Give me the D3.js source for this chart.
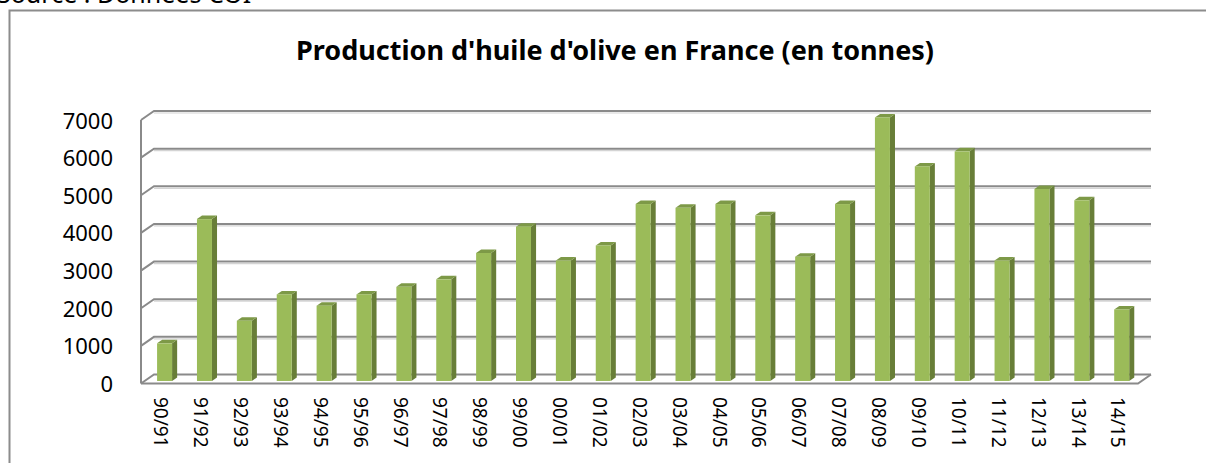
<!DOCTYPE html>
<html>
<head>
<meta charset="utf-8">
<script src="https://cdnjs.cloudflare.com/ajax/libs/d3/7.8.5/d3.min.js"></script>
<style>
    body{margin:0;background:#fff;overflow:hidden;}
    svg{display:block;}
</style>
</head>
<body>
<div id="graphWrapper"></div>
<script>
//data
const CAMPAIGNS = ['90/91','91/92','92/93','93/94','94/95','95/96','96/97','97/98','98/99','99/00',
                   '00/01','01/02','02/03','03/04','04/05','05/06','06/07','07/08','08/09','09/10',
                   '10/11','11/12','12/13','13/14','14/15'];
const TONNES = [1000,4300,1600,2300,2000,2300,2500,2700,3400,4100,
                3200,3600,4700,4600,4700,4400,3300,4700,7000,5700,
                6100,3200,5100,4800,1900];
const Y_TICKS = [0,1000,2000,3000,4000,5000,6000,7000];
const TITLE = "Production d'huile d'olive en France (en tonnes)";
const SOURCE = 'Source : Données COI';

//layout constants
const CONSTANTS = {
    WIDTH:1206,
    HEIGHT:463,
    FRONT_LEFT:141,   //x of the front edge of the left wall
    FRONT_RIGHT:1138, //x of the front edge of the floor, right end
    BACK_ZERO:374.5,  //y of 0 on the back wall
    BACK_TOP:111,     //y of 7000 on the back wall
    DEPTH_X:13,       //how far the back wall sits to the right
    DEPTH_Y:9,        //how far the back wall sits up
    BAR_WIDTH:15,
    BAR_FRONT:0.72,   //depth of the bar front (0 back, 1 front)
    BAR_BACK:0.33,    //depth of the bar back
    GRID:'#8a8a8a',
    GRID_LIGHT:'#d4d4d4',
    BAR_FACE:'#9bbb59',
    BAR_SIDE:'#687e38',
    BAR_TOP:'#7d9947',
    FONT:'"Noto Sans", "Open Sans", sans-serif'
};

let svg = d3.select('#graphWrapper')
    .append('svg')
    .attr('width',CONSTANTS.WIDTH)
    .attr('height',CONSTANTS.HEIGHT);

//source line, cut off by the top of the picture like in the original
svg.append('text')
    .attr('x',-3)
    .attr('y',3)
    .style('font-family',CONSTANTS.FONT)
    .style('font-size','25px')
    .style('fill','#000')
    .text(SOURCE);

//outer frame
svg.append('path')
    .attr('d','M9.5,'+CONSTANTS.HEIGHT+' V10.5 H'+CONSTANTS.WIDTH)
    .attr('fill','none')
    .attr('stroke','#8c8c8c')
    .attr('stroke-width',2);

//title
svg.append('text')
    .attr('x',615)
    .attr('y',60)
    .attr('text-anchor','middle')
    .style('font-family',CONSTANTS.FONT)
    .style('font-weight','bold')
    .style('font-size','27px')
    .style('fill','#000')
    .text(TITLE);

//scales
let xScale = d3.scaleBand()
    .domain(CAMPAIGNS)
    .range([CONSTANTS.FRONT_LEFT,CONSTANTS.FRONT_RIGHT]);

let yScale = d3.scaleLinear()
    .domain([0,7000])
    .range([CONSTANTS.BACK_ZERO,CONSTANTS.BACK_TOP]);

//point at a given depth, x given on the front plane
function proj(xFront,value,depth){
    return [xFront + (1 - depth) * CONSTANTS.DEPTH_X, yScale(value) + depth * CONSTANTS.DEPTH_Y];
}

//gridlines on the back wall with the little diagonal on the left wall
let backLeft = CONSTANTS.FRONT_LEFT + CONSTANTS.DEPTH_X;
let backRight = CONSTANTS.FRONT_RIGHT + CONSTANTS.DEPTH_X;
let grid = svg.append('g').attr('id','grid');

grid.selectAll('line.shadow')
    .data(Y_TICKS.filter(v=>v>0))
    .enter()
    .append('line')
    .attr('class','shadow')
    .attr('x1',backLeft)
    .attr('x2',backRight)
    .attr('y1',d=>yScale(d)+2)
    .attr('y2',d=>yScale(d)+2)
    .attr('stroke',CONSTANTS.GRID_LIGHT)
    .attr('stroke-width',1.2);

grid.selectAll('path.gridline')
    .data(Y_TICKS)
    .enter()
    .append('path')
    .attr('class','gridline')
    .attr('d',d=>'M'+CONSTANTS.FRONT_LEFT+','+(yScale(d)+CONSTANTS.DEPTH_Y)+' L'+backLeft+','+yScale(d)+' H'+backRight)
    .attr('fill','none')
    .attr('stroke',CONSTANTS.GRID)
    .attr('stroke-width',2);

//left wall front edge
grid.append('line')
    .attr('x1',CONSTANTS.FRONT_LEFT)
    .attr('x2',CONSTANTS.FRONT_LEFT)
    .attr('y1',yScale(7000)+CONSTANTS.DEPTH_Y)
    .attr('y2',yScale(0)+CONSTANTS.DEPTH_Y)
    .attr('stroke',CONSTANTS.GRID)
    .attr('stroke-width',2);

//floor front edge and right end
grid.append('path')
    .attr('d','M'+CONSTANTS.FRONT_LEFT+','+(yScale(0)+CONSTANTS.DEPTH_Y)+' H'+CONSTANTS.FRONT_RIGHT+' L'+backRight+','+yScale(0))
    .attr('fill','none')
    .attr('stroke',CONSTANTS.GRID)
    .attr('stroke-width',2);

//the 3D columns
let bars = svg.append('g').attr('id','bars')
    .selectAll('g')
    .data(CAMPAIGNS.map((c,i)=>({campaign:c,value:TONNES[i]})))
    .enter()
    .append('g');

let barLeft = d=>xScale(d.campaign) + (xScale.bandwidth() - CONSTANTS.BAR_WIDTH) / 2;
let barRight = d=>barLeft(d) + CONSTANTS.BAR_WIDTH;

//side face
bars.append('polygon')
    .attr('points',d=>[
        proj(barRight(d),d.value,CONSTANTS.BAR_FRONT),
        proj(barRight(d),d.value,CONSTANTS.BAR_BACK),
        proj(barRight(d),0,CONSTANTS.BAR_BACK),
        proj(barRight(d),0,CONSTANTS.BAR_FRONT)
    ].join(' '))
    .attr('fill',CONSTANTS.BAR_SIDE);

//top face
bars.append('polygon')
    .attr('points',d=>[
        proj(barLeft(d),d.value,CONSTANTS.BAR_FRONT),
        proj(barLeft(d),d.value,CONSTANTS.BAR_BACK),
        proj(barRight(d),d.value,CONSTANTS.BAR_BACK),
        proj(barRight(d),d.value,CONSTANTS.BAR_FRONT)
    ].join(' '))
    .attr('fill',CONSTANTS.BAR_TOP);

//front face
bars.append('rect')
    .attr('x',d=>proj(barLeft(d),d.value,CONSTANTS.BAR_FRONT)[0])
    .attr('y',d=>proj(barLeft(d),d.value,CONSTANTS.BAR_FRONT)[1])
    .attr('width',CONSTANTS.BAR_WIDTH)
    .attr('height',d=>yScale(0) - yScale(d.value))
    .attr('fill',CONSTANTS.BAR_FACE);

//y axis labels, on the front plane
let yAxis = d3.axisLeft(yScale)
    .tickValues(Y_TICKS)
    .tickFormat(d3.format('d'))
    .tickSize(0)
    .tickPadding(0);

let yAxisG = svg.append('g')
    .attr('id','y-axis')
    .attr('transform','translate(113,'+(CONSTANTS.DEPTH_Y + 1)+')')
    .call(yAxis);
yAxisG.select('.domain').remove();
yAxisG.selectAll('text')
    .style('font-family',CONSTANTS.FONT)
    .style('font-size','22px')
    .style('fill','#000');

//x axis labels, rotated
let xAxis = d3.axisBottom(xScale).tickSize(0).tickPadding(0);

let xAxisG = svg.append('g')
    .attr('id','x-axis')
    .attr('transform','translate(0,397)')
    .call(xAxis);
xAxisG.select('.domain').remove();
xAxisG.selectAll('text')
    .attr('y',0)
    .attr('x',0)
    .attr('dy','0.35em')
    .attr('transform','rotate(90)')
    .attr('text-anchor','start')
    .style('font-family',CONSTANTS.FONT)
    .style('font-size','19px')
    .style('fill','#000');
</script>
</body>
</html>
